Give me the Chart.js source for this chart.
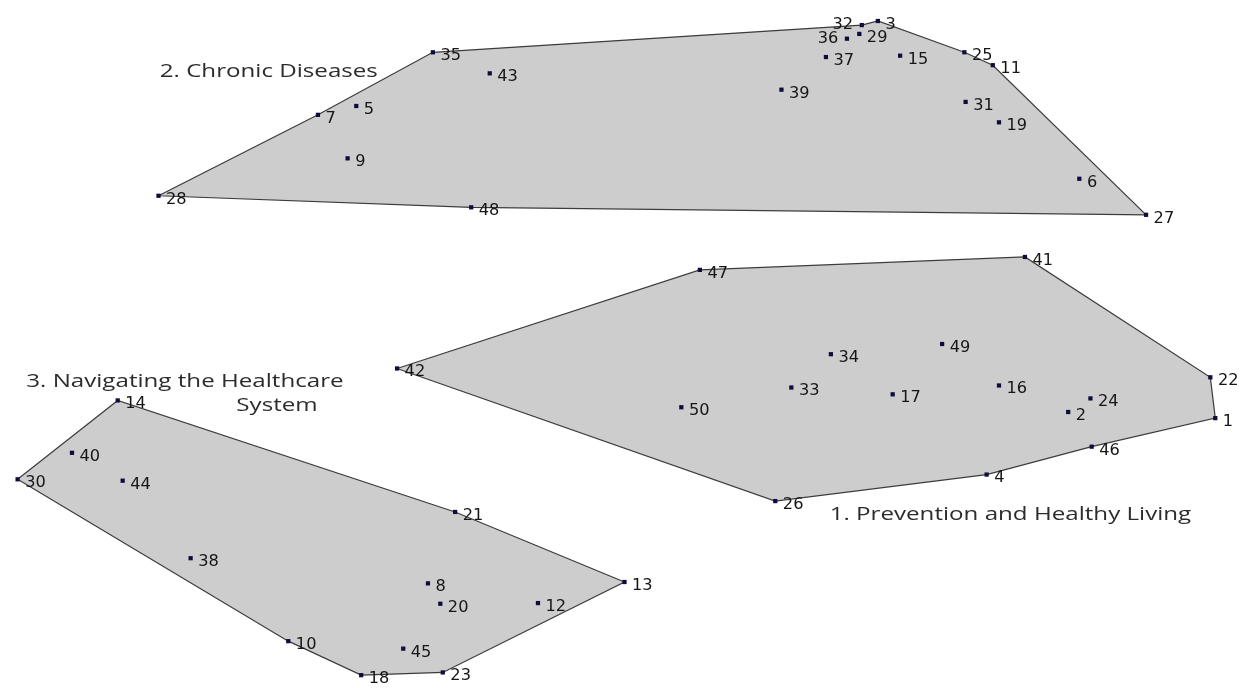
<!DOCTYPE html>
<html lang="en">
<head>
  <meta charset="UTF-8">
  <title>Concept Map Clusters</title>
  <script src="https://cdn.jsdelivr.net/npm/chart.js"></script>
  <style>
    html, body { margin: 0; padding: 0; background: #fff; }
    #wrap { width: 1244px; height: 688px; position: relative; }
  </style>
</head>
<body>
<div id="wrap"><canvas id="myChart"></canvas></div>
<script>
// Statement ids and map positions (point-map units, 0..100)
const statementIds = [1, 2, 3, 4, 5, 6, 7, 8, 9, 10,
  11, 12, 13, 14, 15, 16, 17, 18, 19, 20,
  21, 22, 23, 24, 25, 26, 27, 28, 29, 30,
  31, 32, 33, 34, 35, 36, 37, 38, 39, 40,
  41, 42, 43, 44, 45, 46, 47, 48, 49, 50];
const mapX = [98.0, 86.1, 70.7, 79.5, 28.5, 87.0, 25.4, 34.3, 27.8, 23.0,
  80.0, 43.2, 50.2, 9.2, 72.5, 80.5, 71.9, 28.9, 80.5, 35.3,
  36.5, 97.6, 35.5, 87.9, 77.7, 62.4, 92.4, 12.5, 69.2, 1.1,
  77.8, 69.4, 63.7, 66.9, 34.7, 68.2, 66.5, 15.1, 62.9, 5.5,
  82.6, 31.8, 39.3, 9.6, 32.3, 88.0, 56.3, 37.8, 75.9, 54.8];
const mapY = [39.1, 40.0, 97.5, 30.8, 85.0, 74.3, 83.7, 14.8, 77.3, 6.3,
  91.0, 11.9, 15.0, 41.7, 92.4, 43.9, 42.6, 1.3, 82.6, 11.8,
  25.3, 45.1, 1.7, 42.0, 92.9, 26.9, 69.0, 71.8, 95.6, 30.1,
  85.6, 96.9, 43.6, 48.5, 92.9, 94.9, 92.2, 18.5, 87.4, 34.0,
  62.8, 46.4, 89.8, 29.9, 5.2, 34.9, 60.9, 70.1, 50.0, 40.7];

// Cluster boundaries (statement ids in hull order)
const hullPrevention = [42, 47, 41, 22, 1, 46, 4, 26];
const hullChronic = [28, 7, 35, 32, 3, 25, 11, 27, 48];
const hullNavigating = [30, 14, 21, 13, 23, 18, 10];

// Cluster names
const clusterNames = ['1. Prevention and Healthy Living', '2. Chronic Diseases',
  '3. Navigating the Healthcare', 'System'];
const clusterNameX = [66.8, 12.6, 1.8, 18.8];
const clusterNameY = [24.9, 90.0, 44.5, 41.0];

// labels drawn on the left side of their point
const leftLabels = [32, 36];

const pointOf = id => {
  const i = statementIds.indexOf(id);
  return { x: mapX[i], y: mapY[i] };
};

const hullData = ids => ids.concat(ids[0]).map(pointOf);

const hullStyle = {
  showLine: true,
  fill: 'shape',
  backgroundColor: '#cdcdcd',
  borderColor: '#3c3c3c',
  borderWidth: 1.2,
  pointRadius: 0,
  tension: 0,
  order: 2
};

const labelPlugin = {
  id: 'mapLabels',
  afterDatasetsDraw(chart) {
    const ctx = chart.ctx;
    const xs = chart.scales.x;
    const ys = chart.scales.y;
    ctx.save();
    ctx.fillStyle = '#161616';
    ctx.font = '15px "DejaVu Sans"';
    ctx.textBaseline = 'middle';
    statementIds.forEach((id, i) => {
      const px = xs.getPixelForValue(mapX[i]);
      const py = ys.getPixelForValue(mapY[i]);
      ctx.save();
      ctx.translate(px, py);
      ctx.scale(1.08, 1);
      if (leftLabels.includes(id)) {
        ctx.textAlign = 'right';
        ctx.fillText(String(id), -8, 0);
      } else {
        ctx.textAlign = 'left';
        ctx.fillText(String(id), 7, 4);
      }
      ctx.restore();
    });

    // cluster names (stretched a little, like the original)
    ctx.fillStyle = '#2c2c2c';
    ctx.font = '19px "Open Sans"';
    ctx.textAlign = 'left';
    clusterNames.forEach((name, i) => {
      ctx.save();
      ctx.translate(xs.getPixelForValue(clusterNameX[i]), ys.getPixelForValue(clusterNameY[i]));
      ctx.scale(1.27, 1);
      ctx.fillText(name, 0, 0);
      ctx.restore();
    });
    ctx.restore();
  }
};

new Chart(document.getElementById('myChart'), {
  type: 'scatter',
  data: {
    datasets: [
      Object.assign({ label: 'Prevention', data: hullData(hullPrevention) }, hullStyle),
      Object.assign({ label: 'Chronic', data: hullData(hullChronic) }, hullStyle),
      Object.assign({ label: 'Navigating', data: hullData(hullNavigating) }, hullStyle),
      {
        label: 'Statements',
        data: statementIds.map(pointOf),
        pointStyle: 'rect',
        pointRadius: 3,
        backgroundColor: '#0d0d3d',
        borderColor: '#0d0d3d',
        borderWidth: 0,
        order: 1
      }
    ]
  },
  options: {
    responsive: true,
    maintainAspectRatio: false,
    animation: false,
    layout: { padding: 0 },
    plugins: { legend: { display: false }, tooltip: { enabled: false } },
    scales: {
      x: { type: 'linear', min: 0, max: 100, display: false },
      y: { type: 'linear', min: 0, max: 100, display: false }
    }
  },
  plugins: [labelPlugin]
});
</script>
</body>
</html>
